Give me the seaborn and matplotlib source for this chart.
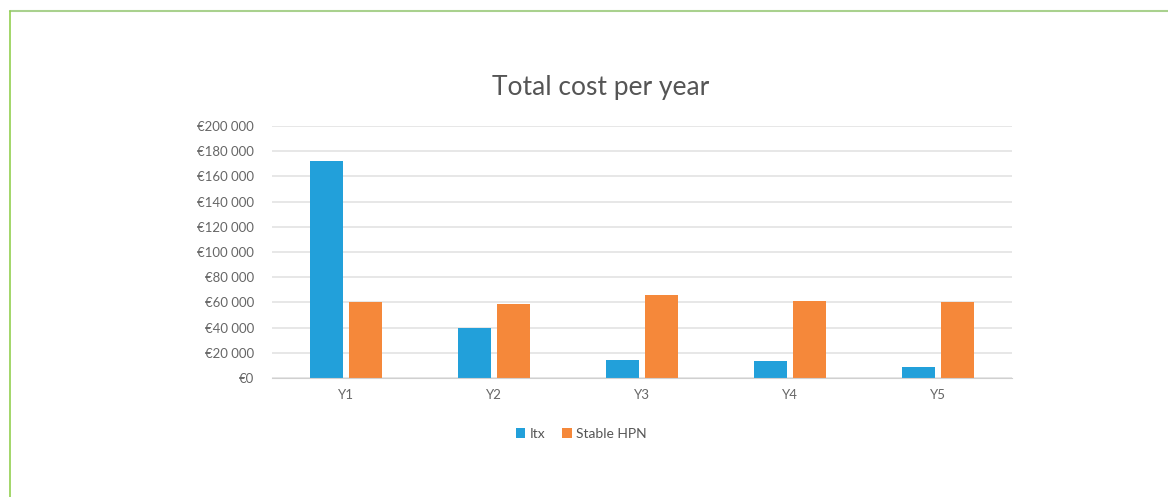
import matplotlib
matplotlib.use("Agg")
import matplotlib.pyplot as plt
import matplotlib.ticker as mticker
import seaborn as sns
import pandas as pd

# values (euro)
years = ["Y1", "Y2", "Y3", "Y4", "Y5"]
itx = [172000, 40000, 14000, 13500, 9000]
stable_hpn = [60500, 58500, 66000, 61000, 60000]
series_names = ["Itx", "Stable HPN"]
colors = ["#22a0da", "#f5883a"]

df = pd.DataFrame({
    "year": years * 2,
    "cost": itx + stable_hpn,
    "series": [series_names[0]] * len(years) + [series_names[1]] * len(years),
})

sns.set_style("white")
plt.rcParams["font.family"] = ["Lato", "DejaVu Sans"]

fig = plt.figure(figsize=(11.68, 4.97), dpi=100)
ax = fig.add_axes([272 / 1168, 1 - 378 / 497, 740 / 1168, 252 / 497])

sns.barplot(data=df, x="year", y="cost", hue="series", palette=colors,
            width=0.53, gap=0.16, ax=ax, saturation=1, legend=True,
            linewidth=0)

ax.set_ylim(0, 200000)
ax.set_xlim(-0.5, 4.5)
ax.yaxis.set_major_locator(mticker.MultipleLocator(20000))
ax.yaxis.set_major_formatter(mticker.FuncFormatter(
    lambda v, p: "€" + f"{int(v):,}".replace(",", " ")))
ax.grid(axis="y", color="#e3e3e3", linewidth=1.2)
ax.set_axisbelow(True)
for s in ["top", "right", "left"]:
    ax.spines[s].set_visible(False)
ax.spines["bottom"].set_color("#d0d0d0")
ax.tick_params(axis="y", length=0, labelsize=9.5, labelcolor="#666666", pad=13)
ax.tick_params(axis="x", length=0, labelsize=9.5, labelcolor="#666666", pad=8)
ax.set_xlabel("")
ax.set_ylabel("")

fig.text(601 / 1168, 1 - 87 / 497, "Total cost per year", ha="center", va="center",
         fontsize=19, color="#555555")

handles, labels = ax.get_legend_handles_labels()
ax.legend(handles, labels, loc="center", bbox_to_anchor=(581 / 1168, 1 - 434 / 497),
          bbox_transform=fig.transFigure, ncol=2, frameon=False, fontsize=10,
          labelcolor="#555555", handlelength=0.7, handleheight=0.7,
          handletextpad=0.3, columnspacing=1.2)

# thin green frame along the top and left of the picture
fig.add_artist(plt.Line2D([10 / 1168, 1], [1 - 11 / 497] * 2, color="#a9d18e",
                          linewidth=1.5, transform=fig.transFigure))
fig.add_artist(plt.Line2D([10 / 1168] * 2, [0, 1 - 11 / 497], color="#92d050",
                          linewidth=1.2, transform=fig.transFigure))

fig.savefig("out.png", dpi=100)
